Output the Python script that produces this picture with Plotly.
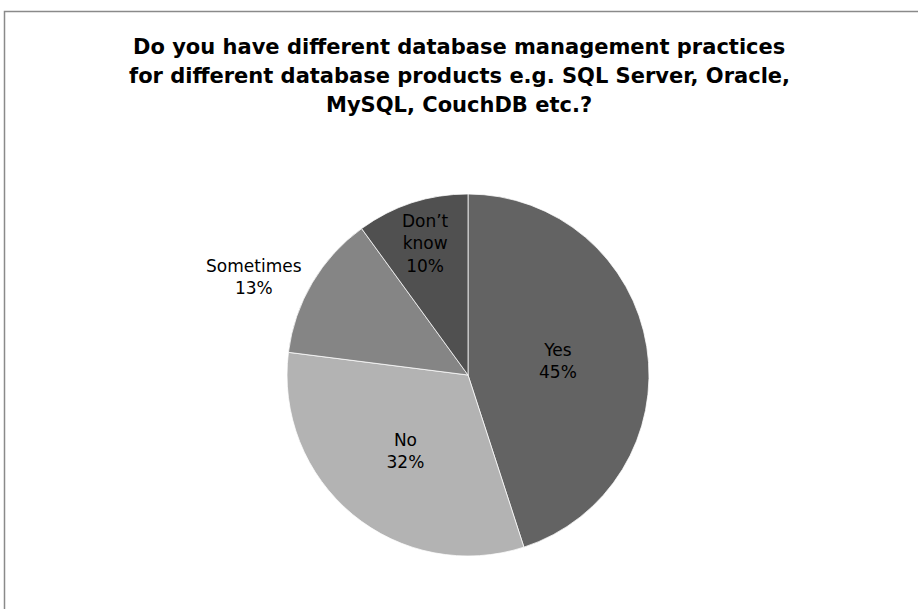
import plotly.graph_objects as go

categories = ["Yes", "No", "Sometimes", "Don’t<br>know"]
values = [45, 32, 13, 10]
colors = ["#636363", "#b3b3b3", "#858585", "#505050"]
title_lines = ["Do you have different database management practices",
               "for different database products e.g. SQL Server, Oracle,",
               "MySQL, CouchDB etc.?"]

W, H = 918, 609
cx, cy, r = 468, 375, 181

fig = go.Figure(go.Pie(
    labels=categories,
    values=values,
    sort=False,
    direction="clockwise",
    rotation=0,
    marker=dict(colors=colors, line=dict(color="#ffffff", width=0.75)),
    texttemplate="%{label}<br>%{percent:.0%}",
    textposition=["inside", "inside", "outside", "inside"],
    insidetextorientation="horizontal",
    textfont=dict(family="DejaVu Sans, sans-serif", size=17, color="#000000"),
    showlegend=False,
    hoverinfo="label+percent",
    domain=dict(x=[(cx - r) / W, (cx + r) / W],
                y=[(H - cy - r) / H, (H - cy + r) / H]),
))

title_y_px = [47, 76, 105]
annotations = [dict(text="<b>" + t + "</b>", x=0.5, xref="paper", xanchor="center",
                    y=1 - yy / H, yref="paper", yanchor="middle", showarrow=False,
                    font=dict(family="DejaVu Sans, sans-serif", size=21, color="#000000"))
               for t, yy in zip(title_lines, title_y_px)]

fig.update_layout(
    width=W, height=H,
    margin=dict(l=0, r=0, t=0, b=0),
    paper_bgcolor="#ffffff",
    annotations=annotations,
    shapes=[dict(type="rect", xref="paper", yref="paper",
                 x0=4.5 / W, x1=1.01, y0=-0.01, y1=1 - 11.5 / H,
                 line=dict(color="#8a8a8a", width=1.5), fillcolor="rgba(0,0,0,0)")],
)

fig.write_html("out.html", config={"displayModeBar": False},
               post_script="document.body.style.margin='0';")
